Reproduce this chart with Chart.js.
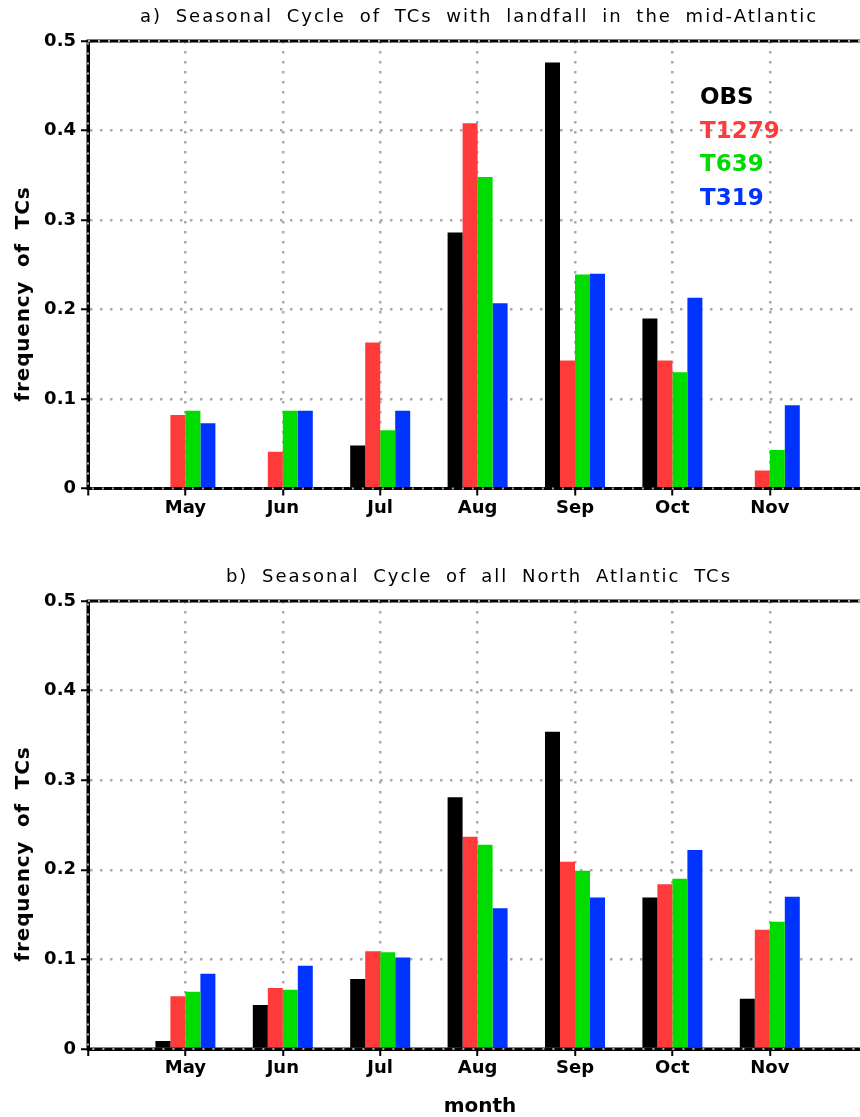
<!DOCTYPE html>
<html>
<head>
<meta charset="utf-8">
<script src="https://cdn.jsdelivr.net/npm/chart.js@4"></script>
<style>
  html, body { margin: 0; padding: 0; background: #fff; }
  body { width: 860px; height: 1117px; position: relative; overflow: hidden; }
  .panel { position: absolute; left: 0; width: 880px; }
  .title { position: absolute; white-space: nowrap; transform: translateX(-50%);
           font-family: 'DejaVu Sans'; font-size: 18px; letter-spacing: 2px; word-spacing: 6px; color: #000; }
  .ytitle { position: absolute; white-space: nowrap; transform: translate(-50%, -50%) rotate(-90deg);
            font-family: 'DejaVu Sans'; font-weight: bold; font-size: 20px; letter-spacing: 0.8px; word-spacing: 6px; }
  .xtitle { position: absolute; white-space: nowrap; transform: translate(-50%, -50%);
            font-family: 'DejaVu Sans'; font-weight: bold; font-size: 20px; }
  .legend { position: absolute; left: 700px; top: 80px; font-family: 'DejaVu Sans';
            font-weight: bold; font-size: 23px; line-height: 33.5px; }
</style>
</head>
<body>
<div class="panel" style="top:0;height:560px"><canvas id="chartA" width="880" height="560"></canvas></div>
<div class="panel" style="top:560px;height:557px"><canvas id="chartB" width="880" height="557"></canvas></div>
<div class="title" style="left:479px;top:5px">a) Seasonal Cycle of TCs with landfall in the mid-Atlantic</div>
<div class="title" style="left:479px;top:565px">b) Seasonal Cycle of all North Atlantic TCs</div>
<div class="ytitle" style="left:22px;top:294px">frequency of TCs</div>
<div class="ytitle" style="left:22px;top:854px">frequency of TCs</div>
<div class="xtitle" style="left:480px;top:1105px">month</div>
<div class="legend" id="legend"></div>

<script>
// months shown on the x axis
const months = ['May', 'Jun', 'Jul', 'Aug', 'Sep', 'Oct', 'Nov'];
const seriesNames = ['OBS', 'T1279', 'T639', 'T319'];
const seriesColors = ['#000000', '#ff3a3a', '#00dc00', '#0033ff'];
const yTicks = [0, 0.1, 0.2, 0.3, 0.4, 0.5];

// a) landfall in the mid-Atlantic
const obsA   = [0, 0, 0.048, 0.286, 0.476, 0.190, 0];
const t1279A = [0.082, 0.041, 0.163, 0.408, 0.143, 0.143, 0.020];
const t639A  = [0.087, 0.087, 0.065, 0.348, 0.239, 0.130, 0.043];
const t319A  = [0.073, 0.087, 0.087, 0.207, 0.240, 0.213, 0.093];

// b) all North Atlantic TCs
const obsB   = [0.009, 0.049, 0.078, 0.281, 0.354, 0.169, 0.056];
const t1279B = [0.059, 0.068, 0.109, 0.237, 0.209, 0.184, 0.133];
const t639B  = [0.064, 0.066, 0.108, 0.228, 0.199, 0.190, 0.142];
const t319B  = [0.084, 0.093, 0.102, 0.157, 0.169, 0.222, 0.170];

// one empty slot before May and after Nov, so the axis runs Apr..Dec
const axisLabels = [''].concat(months, ['']);
function pad(values) { return [null].concat(values, [null]); }

const tickFont = { family: 'DejaVu Sans', weight: 'bold', size: 18 };
const gridOpts = { color: '#aaaaaa', lineWidth: 2.5, offset: false,
                   tickColor: '#000', tickWidth: 2, tickLength: 7, tickBorderDash: [] };
const borderOpts = { color: '#000', width: 3, dash: [2.5, 7.5] };

// frame round the plot, black with the grey dots over it
const framePlugin = {
  id: 'frame',
  afterDraw(chart) {
    const { ctx, chartArea: a } = chart;
    ctx.save();
    ctx.strokeStyle = '#000';
    ctx.lineWidth = 3;
    ctx.strokeRect(a.left, a.top, a.right - a.left, a.bottom - a.top);
    ctx.strokeStyle = '#aaaaaa';
    ctx.lineWidth = 2;
    ctx.setLineDash([2, 8]);
    ctx.strokeRect(a.left, a.top, a.right - a.left, a.bottom - a.top);
    ctx.restore();
  }
};

function makeChart(id, seriesValues, xAxisHeight) {
  const ctx = document.getElementById(id).getContext('2d');
  return new Chart(ctx, {
    type: 'bar',
    data: {
      labels: axisLabels,
      datasets: seriesValues.map((vals, i) => ({
        label: seriesNames[i],
        data: pad(vals),
        backgroundColor: seriesColors[i],
        borderWidth: 0,
        categoryPercentage: 0.616,
        barPercentage: 1.0
      }))
    },
    options: {
      responsive: false,
      devicePixelRatio: 1,
      animation: false,
      layout: { padding: { top: 41, right: 12.8, bottom: 0, left: 0 } },
      plugins: { legend: { display: false }, tooltip: { enabled: false } },
      scales: {
        x: {
          type: 'category',
          offset: false,
          z: 1,
          grid: gridOpts,
          border: borderOpts,
          ticks: { color: '#000', font: tickFont, padding: 2, autoSkip: false, maxRotation: 0 },
          afterFit: s => { s.height = xAxisHeight; }
        },
        y: {
          min: 0,
          max: 0.5,
          z: 1,
          afterBuildTicks: s => { s.ticks = yTicks.map(v => ({ value: v })); },
          grid: gridOpts,
          border: borderOpts,
          ticks: { color: '#000', font: tickFont, padding: 5,
                   callback: v => v === 0 ? '0' : v.toFixed(1) },
          afterFit: s => { s.width = 88; }
        }
      }
    },
    plugins: [framePlugin]
  });
}

makeChart('chartA', [obsA, t1279A, t639A, t319A], 71.5);
makeChart('chartB', [obsB, t1279B, t639B, t319B], 68);

// legend: series names in their own colours
const legend = document.getElementById('legend');
seriesNames.forEach((name, i) => {
  const line = document.createElement('div');
  line.textContent = name;
  line.style.color = seriesColors[i];
  legend.appendChild(line);
});
</script>
</body>
</html>
